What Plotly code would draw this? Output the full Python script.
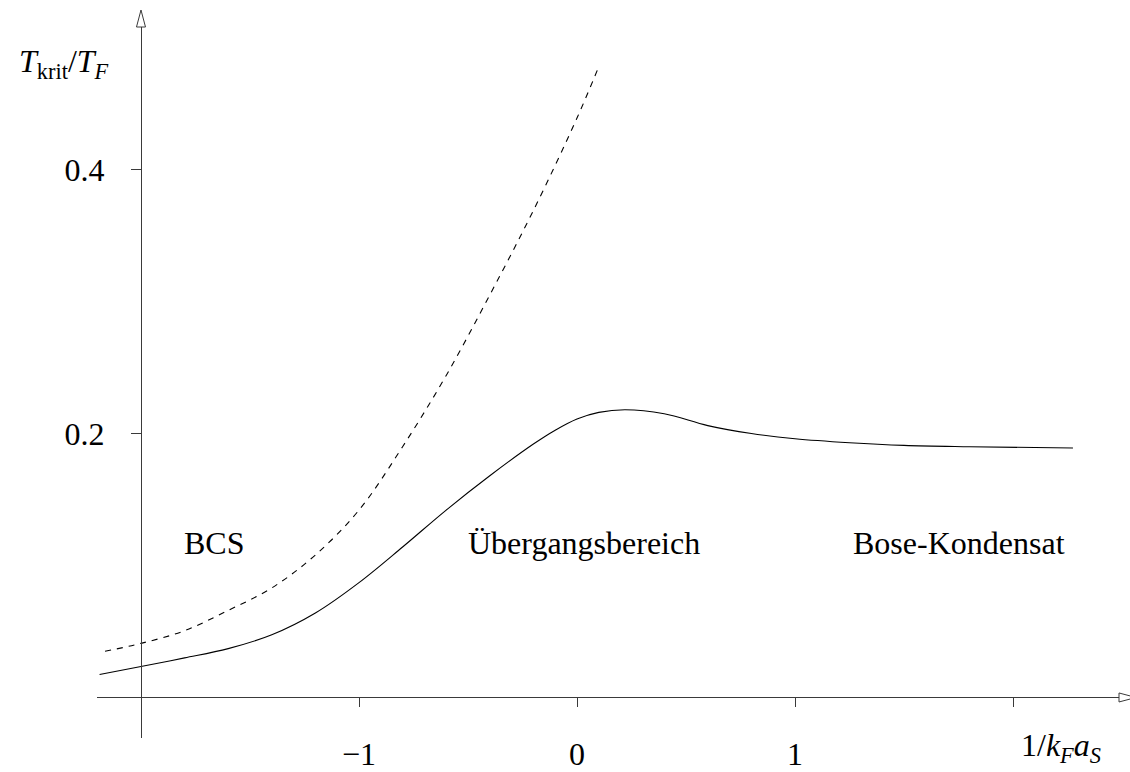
import plotly.graph_objects as go

# ---- data ----
solid_x = [-2.19, -2.0, -1.8, -1.6, -1.4, -1.2, -1.0, -0.8, -0.6, -0.4, -0.2, -0.1,
           0.0, 0.1, 0.22, 0.4, 0.6, 0.8, 1.0, 1.25, 1.5, 1.8, 2.275]
solid_y = [0.0174, 0.0235, 0.030, 0.037, 0.0475, 0.064, 0.087, 0.114, 0.142, 0.168, 0.192, 0.2025,
           0.211, 0.216, 0.218, 0.215, 0.206, 0.200, 0.196, 0.193, 0.191, 0.190, 0.189]

dash_x = [-2.165, -2.0, -1.8, -1.6, -1.4, -1.2, -1.0, -0.8, -0.6, -0.4, -0.2, 0.0, 0.1]
dash_y = [0.035, 0.041, 0.0506, 0.066, 0.083, 0.108, 0.142, 0.190, 0.244, 0.305, 0.369, 0.439, 0.478]

x_tickvals = [-1, 0, 1, 2]
x_ticktext = ["\u22121", "0", "1", ""]
y_tickvals = [0.2, 0.4]
y_ticktext = ["0.2", "0.4"]

region_labels = ["BCS", "\u00dcbergangsbereich", "Bose-Kondensat"]
region_x = [-1.667, 0.03, 1.75]
region_y = [0.117, 0.117, 0.117]

x_range = [-2.2018, 2.4862]
y_range = [-0.0307, 0.5080]
y_axis_at_x = -2.0
x_axis_at_y = 0.0

FONT = "Liberation Serif"
FS = 32
AX_COLOR = "#3a3a3a"

fig = go.Figure()
fig.add_trace(go.Scatter(x=solid_x, y=solid_y, mode="lines",
                         line=dict(color="black", width=1.1, shape="spline", smoothing=1.0),
                         hoverinfo="skip", showlegend=False))
fig.add_trace(go.Scatter(x=dash_x, y=dash_y, mode="lines",
                         line=dict(color="black", width=1.1, shape="spline", smoothing=1.0,
                                   dash="6px,6px"),
                         hoverinfo="skip", showlegend=False))

xpos = (x_axis_at_y - y_range[0]) / (y_range[1] - y_range[0])
ypos = (y_axis_at_x - x_range[0]) / (x_range[1] - x_range[0])

fig.update_layout(
    width=1130, height=772,
    margin=dict(l=97, r=11, t=27, b=34, autoexpand=False),
    paper_bgcolor="white", plot_bgcolor="white",
    font=dict(family=FONT, size=FS, color="black"),
    xaxis=dict(range=x_range, anchor="free", position=xpos, automargin=False,
               showgrid=False, zeroline=False, showline=True, linecolor=AX_COLOR, linewidth=1,
               ticks="outside", ticklen=9, tickcolor=AX_COLOR, tickwidth=1,
               tickvals=x_tickvals, ticktext=x_ticktext, ticklabelstandoff=19,
               tickfont=dict(family=FONT, size=FS, color="black")),
    yaxis=dict(range=y_range, anchor="free", position=ypos, automargin=False,
               showgrid=False, zeroline=False, showline=True, linecolor=AX_COLOR, linewidth=1,
               ticks="outside", ticklen=10, tickcolor=AX_COLOR, tickwidth=1,
               tickvals=y_tickvals, ticktext=y_ticktext, ticklabelstandoff=20,
               tickfont=dict(family=FONT, size=FS, color="black")),
)

# open arrowheads at the axis ends
fig.add_shape(type="path", xref="x", yref="paper", xsizemode="pixel", ysizemode="pixel",
              xanchor=y_axis_at_x, yanchor=1,
              path="M -4.5 0 L 4.5 0 L 0 17 Z",
              line=dict(color=AX_COLOR, width=1), fillcolor="white")
fig.add_shape(type="path", xref="paper", yref="y", xsizemode="pixel", ysizemode="pixel",
              xanchor=1, yanchor=x_axis_at_y,
              path="M 0 -4.5 L 0 4.5 L 17 0 Z",
              line=dict(color=AX_COLOR, width=1), fillcolor="white")

for t, xx, yy in zip(region_labels, region_x, region_y):
    fig.add_annotation(x=xx, y=yy, xref="x", yref="y", text=t, showarrow=False,
                       xanchor="center", yanchor="middle",
                       font=dict(family=FONT, size=FS, color="black"))

fig.add_annotation(x=-0.032, y=0.949, xref="paper", yref="paper",
                   xanchor="center", yanchor="middle",
                   text="<i>T</i><sub>krit</sub>/<i>T</i><sub><i>F</i></sub>",
                   showarrow=False, font=dict(family=FONT, size=FS, color="black"))
fig.add_annotation(x=0.943, y=-0.014, xref="paper", yref="paper",
                   xanchor="center", yanchor="middle",
                   text="1/<i>k</i><sub><i>F</i></sub><i>a</i><sub><i>S</i></sub>",
                   showarrow=False, font=dict(family=FONT, size=FS, color="black"))

fig.write_html("out.html")
